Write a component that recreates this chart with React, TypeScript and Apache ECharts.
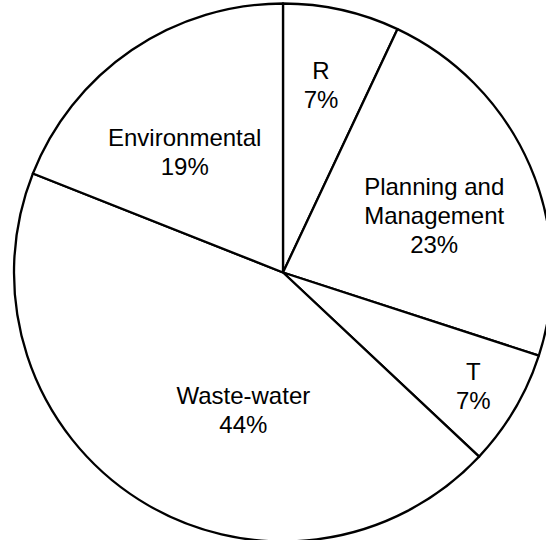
import React, { useEffect, useRef } from "react";
import * as echarts from "echarts";

const categories = ["R", "Planning and Management", "T", "Waste-water", "Environmental"];
const shares = [7, 23, 7, 44, 19];

// label nudges relative to the default "inside" anchor (px)
const labelNudges: [number, number][] = [
  [8, -53],
  [25, -2],
  [72, 44],
  [34, 21],
  [-21, -7],
];

function wrapName(name: string): string {
  if (name.length <= 14) return name;
  const i = name.lastIndexOf(" ");
  return i > 0 ? name.slice(0, i) + "\n" + name.slice(i + 1) : name;
}

export default function App() {
  const ref = useRef<HTMLDivElement>(null);
  useEffect(() => {
    if (!ref.current) return;
    const chart = echarts.init(ref.current, undefined, { renderer: "svg" });
    const total = shares.reduce((a, b) => a + b, 0);
    chart.setOption({
      animation: false,
      backgroundColor: "#ffffff",
      series: [
        {
          type: "pie",
          center: [283, 272.5],
          radius: 269,
          startAngle: 90,
          clockwise: true,
          avoidLabelOverlap: false,
          silent: true,
          itemStyle: { color: "#ffffff", borderColor: "#000000", borderWidth: 2.3 },
          labelLine: { show: false },
          label: {
            show: true,
            position: "inside",
            color: "#000000",
            fontFamily: "'Liberation Sans', Arial, Helvetica, sans-serif",
            fontSize: 24,
            lineHeight: 29,
            align: "center",
            formatter: (p: any) => wrapName(p.name) + "\n" + Math.round((p.value / total) * 100) + "%",
          },
          data: categories.map((name, i) => ({
            name,
            value: shares[i],
            label: { offset: labelNudges[i] },
          })),
        },
      ],
    });
    return () => chart.dispose();
  }, []);
  return (
    <div
      ref={ref}
      style={{ position: "fixed", left: 0, top: 0, width: 546, height: 540, background: "#fff" }}
    />
  );
}
